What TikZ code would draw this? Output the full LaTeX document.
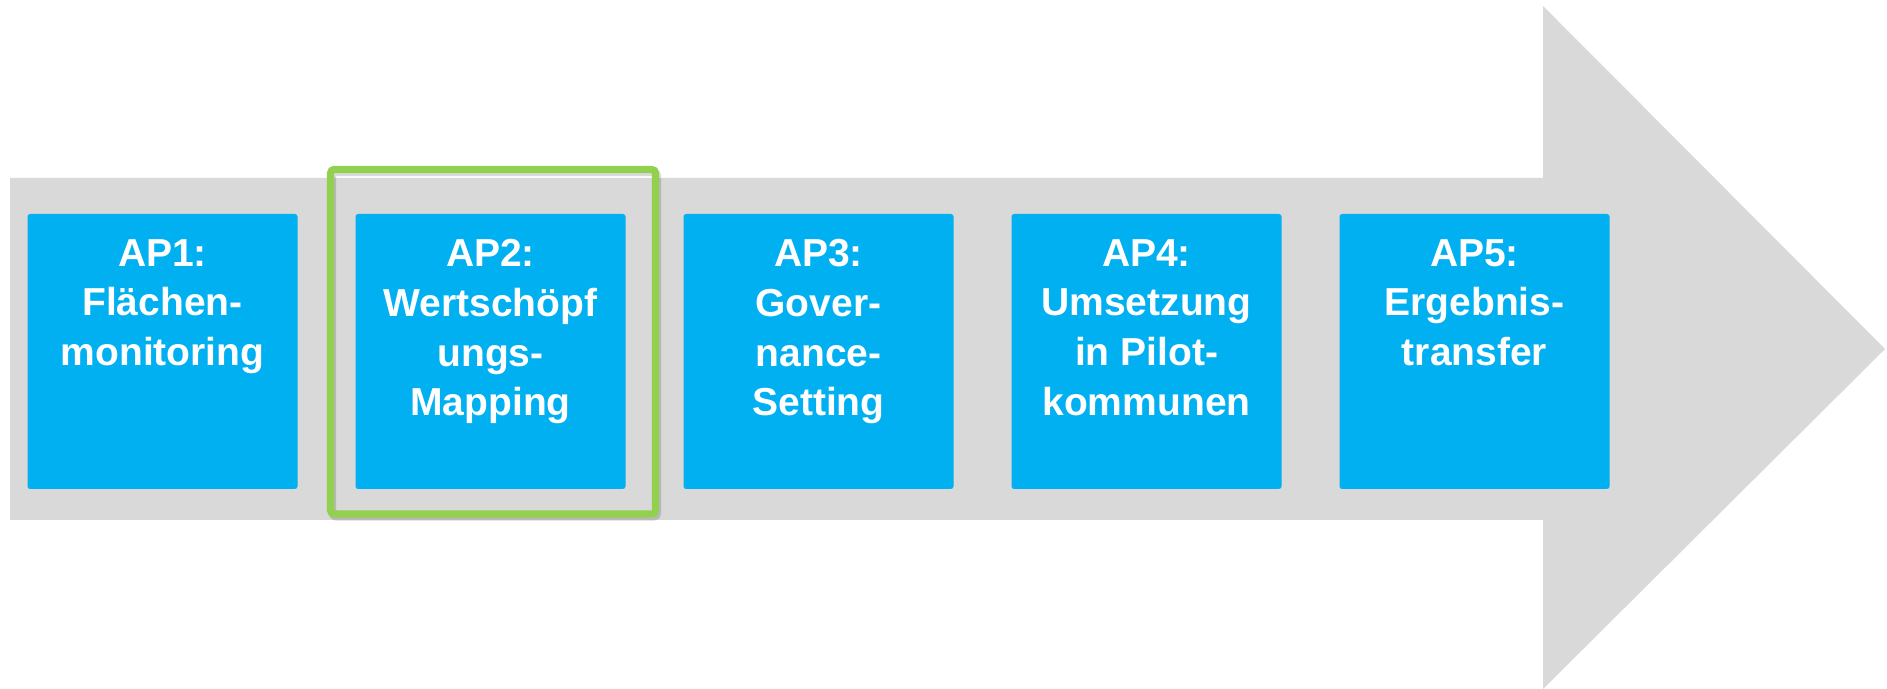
\documentclass[tikz,border=0pt]{standalone}
\usepackage{fontspec}
\setmainfont{Liberation Sans}
\usetikzlibrary{positioning}
\definecolor{bandgray}{HTML}{D9D9D9}
\definecolor{apblue}{HTML}{00B0F0}
\definecolor{apgreen}{HTML}{92D050}
\begin{document}
\begin{tikzpicture}[
  apbox/.style={shape=rectangle, rounded corners=1.5pt, fill=apblue, minimum width=5.4cm, minimum height=5.5cm, inner sep=0pt, outer sep=0pt},
  aptext/.style={anchor=north, align=center, text=white, inner sep=0pt, yshift=-0.5cm, font=\fontsize{22.2}{28.3}\selectfont\bfseries},
  node distance=1.16cm]
\useasboundingbox (0,0) rectangle (37.74,13.78);
\fill[bandgray] (0.2,3.38) -- (30.86,3.38) -- (30.86,0) -- (37.7,6.8) -- (30.86,13.66) -- (30.86,10.22) -- (0.2,10.22) -- cycle;
\node[apbox] (ap1) at (3.25,6.75) {};
\node[apbox, right=of ap1] (ap2) {};
\node[apbox, right=of ap2] (ap3) {};
\node[apbox, right=of ap3] (ap4) {};
\node[apbox, right=of ap4] (ap5) {};
\node[aptext] (t1) at (ap1.north) {AP1:\\Flächen-\\monitoring};
\node[aptext] (t2) at (ap2.north) {AP2:\\Wertschöpf\\ungs-\\Mapping};
\node[aptext] (t3) at (ap3.north) {AP3:\\Gover-\\nance-\\Setting};
\node[aptext] (t4) at (ap4.north) {AP4:\\Umsetzung\\in Pilot-\\kommunen};
\node[aptext] (t5) at (ap5.north) {AP5:\\Ergebnis-\\transfer};
\draw[black, opacity=0.15, line width=4pt, rounded corners=2pt] ([shift={(-0.46,0.83)}]ap2.north west) rectangle ([shift={(0.64,-0.56)}]ap2.south east);
\draw[apgreen, line width=4pt, rounded corners=2pt] ([shift={(-0.5,0.89)}]ap2.north west) rectangle ([shift={(0.6,-0.5)}]ap2.south east);
\end{tikzpicture}
\end{document}
